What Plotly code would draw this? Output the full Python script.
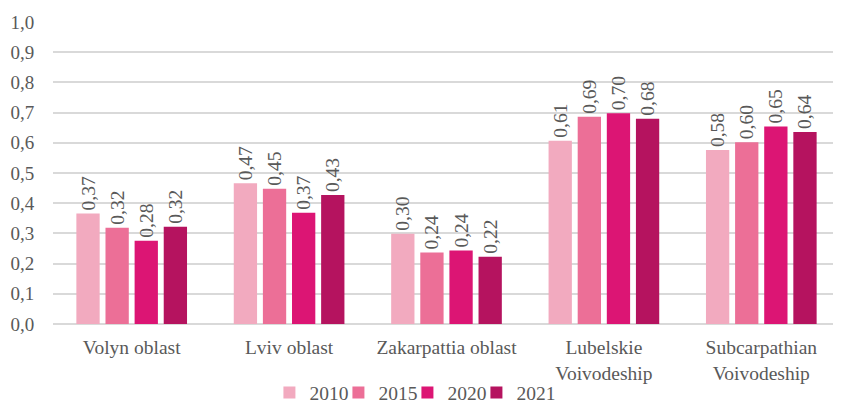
import plotly.graph_objects as go

categories = ["Volyn oblast", "Lviv oblast", "Zakarpattia oblast",
              "Lubelskie<br>Voivodeship", "Subcarpathian<br>Voivodeship"]
years = ["2010", "2015", "2020", "2021"]
v2010 = [0.366, 0.466, 0.299, 0.607, 0.576]
v2015 = [0.319, 0.448, 0.237, 0.686, 0.602]
v2020 = [0.276, 0.368, 0.243, 0.698, 0.654]
v2021 = [0.322, 0.427, 0.223, 0.680, 0.636]
series = [v2010, v2015, v2020, v2021]
colors = ["#F2AABF", "#EC6F97", "#DC1574", "#B5135F"]
yticks = [0.0, 0.1, 0.2, 0.3, 0.4, 0.5, 0.6, 0.7, 0.8, 0.9, 1.0]

FONT = "Liberation Serif"
GREY = "#595959"
FS = 19.5

fig = go.Figure()
for name, vals, col in zip(years, series, colors):
    fig.add_trace(go.Bar(
        x=categories, y=vals, name=name,
        marker=dict(color=col, line=dict(width=0)),
        text=[f"{v:.2f}".replace(".", ",") for v in vals],
        textposition="outside", textangle=-90, constraintext="none",
        textfont=dict(family=FONT, size=FS, color=GREY),
        cliponaxis=False, hoverinfo="skip",
    ))

# invisible spacer entry so the last legend label is not clipped
fig.add_trace(go.Scatter(x=[None], y=[None], mode="markers", name=" ",
                         marker=dict(color="rgba(0,0,0,0)"), hoverinfo="skip"))

# page body has an 8px margin, so the figure is sized to fill the rest of the window
fig.update_layout(
    width=833, height=395,
    margin=dict(l=45, r=1, t=14, b=78.5, autoexpand=False),
    paper_bgcolor="white", plot_bgcolor="white",
    barmode="group", bargap=0.26, bargroupgap=0.2,
    font=dict(family=FONT, size=FS, color=GREY),
    showlegend=True,
    legend=dict(orientation="h", x=0.275, xanchor="left",
                yref="container", y=0.026, yanchor="middle",
                bgcolor="rgba(0,0,0,0)",
                font=dict(family=FONT, size=FS, color=GREY),
                itemwidth=30, traceorder="normal",
                entrywidth=24, entrywidthmode="pixels"),
    xaxis=dict(showgrid=False, showline=False, ticks="outside", ticklen=6,
               automargin=False,
               tickcolor="rgba(0,0,0,0)", tickfont=dict(family=FONT, size=FS, color=GREY)),
    yaxis=dict(range=[0, 1.0], tickvals=yticks, automargin=False,
               ticktext=[f"{t:.1f}".replace(".", ",") for t in yticks],
               showgrid=True, gridcolor="#D9D9D9", gridwidth=1.5,
               zeroline=True, zerolinecolor="#D9D9D9", zerolinewidth=1.5,
               showline=False, ticks="outside", ticklen=14, tickcolor="rgba(0,0,0,0)",
               tickfont=dict(family=FONT, size=19, color=GREY)),
)

fig.write_html("out.html")
